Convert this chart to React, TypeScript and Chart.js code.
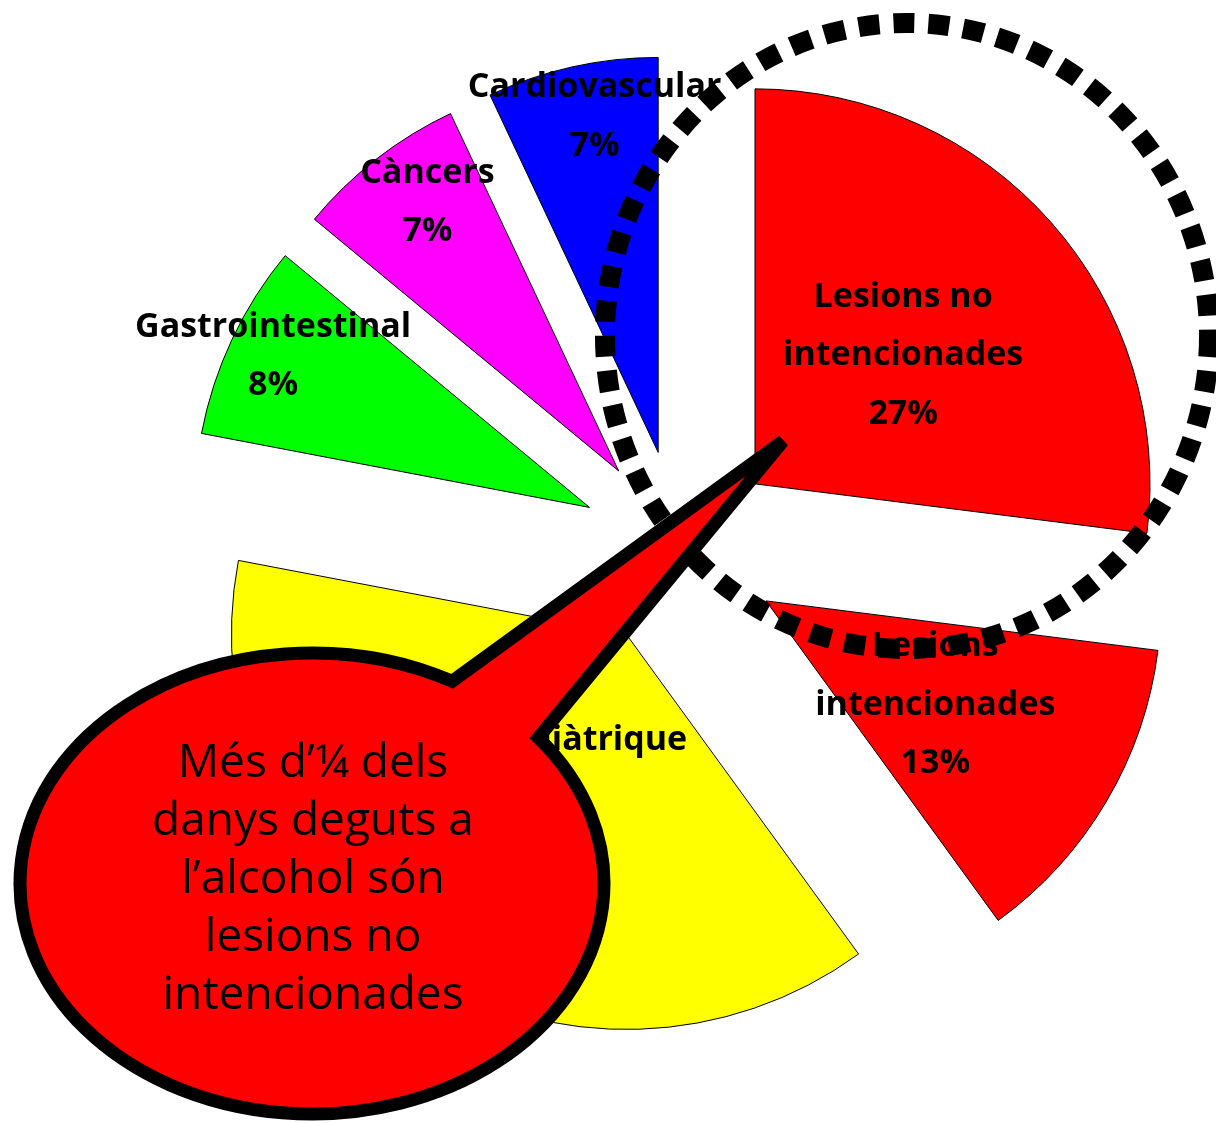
import React, { useEffect, useRef } from "react";
import { Chart, registerables } from "chart.js";

Chart.register(...registerables);

// ---- data ----
const CATEGORIES = [
  "Lesions no intencionades",
  "Lesions intencionades",
  "Neuropsiquiàtrique",
  "Gastrointestinal",
  "Càncers",
  "Cardiovascular",
];
const SHARES = [27, 13, 38, 8, 7, 7];
const LABEL_LINES = [
  ["Lesions no", "intencionades"],
  ["Lesions", "intencionades"],
  ["Neuropsiquiàtrique"],
  ["Gastrointestinal"],
  ["Càncers"],
  ["Cardiovascular"],
];
const CALLOUT_LINES = [
  "Més d’¼ dels",
  "danys deguts a",
  "l’alcohol són",
  "lesions no",
  "intencionades",
];

// ---- style ----
const COLORS = ["#FF0000", "#FF0000", "#FFFF00", "#00FF00", "#FF00FF", "#0000FF"];
const W = 1216;
const H = 1123;
const PIE_RADIUS = 395;
const EXPLODE = 100;
const LABEL_RADIUS = [0.5, 0.5, 0.43, 0.89, 0.84, 0.87];
const LABEL_TURN_DEG = [0, 0.3, 4, 0.5, 2, 1.5];
const LABEL_LINE = 58.5;
const LABEL_FONT = 'bold 34px "Open Sans", "DejaVu Sans", sans-serif';
const CALLOUT_FONT = '46px "Open Sans", "DejaVu Sans", sans-serif';

const RING = { cx: 907, cy: 336, rx: 302, ry: 313, width: 20, dash: [21, 14] };
const BUBBLE = {
  cx: 312, cy: 883.5, rx: 292, ry: 230.5, width: 13,
  baseA: [453, 680], baseB: [538, 738], tip: [783, 441],
  textX: 313, textY0: 777, textStep: 58,
};

const explodePlugin = {
  id: "explodeSlices",
  beforeDatasetsDraw(chart: any) {
    const ctx = chart.ctx;
    const meta = chart.getDatasetMeta(0);
    meta.data.forEach((arc: any) => {
      const mid = (arc.startAngle + arc.endAngle) / 2;
      ctx.save();
      ctx.translate(Math.cos(mid) * EXPLODE, Math.sin(mid) * EXPLODE);
      arc.draw(ctx, chart.chartArea);
      ctx.restore();
    });
    return false;
  },
  afterDraw(chart: any) {
    const ctx: CanvasRenderingContext2D = chart.ctx;
    const meta = chart.getDatasetMeta(0);
    const total = SHARES.reduce((a, b) => a + b, 0);

    // slice labels
    ctx.save();
    ctx.fillStyle = "#000";
    ctx.font = LABEL_FONT;
    ctx.textAlign = "center";
    ctx.textBaseline = "alphabetic";
    meta.data.forEach((arc: any, i: number) => {
      const mid = (arc.startAngle + arc.endAngle) / 2 + (LABEL_TURN_DEG[i] * Math.PI) / 180;
      const d = EXPLODE + LABEL_RADIUS[i] * arc.outerRadius;
      const ax = arc.x + Math.cos(mid) * d;
      const ay = arc.y + Math.sin(mid) * d;
      const lines = [...LABEL_LINES[i], Math.round((SHARES[i] / total) * 100) + "%"];
      lines.forEach((t, j) => {
        ctx.fillText(t, ax, ay + (j - (lines.length - 1) / 2) * LABEL_LINE + 12);
      });
    });
    ctx.restore();

    // dashed ring
    ctx.save();
    ctx.strokeStyle = "#000";
    ctx.lineWidth = RING.width;
    ctx.setLineDash(RING.dash);
    ctx.lineCap = "butt";
    ctx.beginPath();
    ctx.ellipse(RING.cx, RING.cy, RING.rx, RING.ry, 0, 0, Math.PI * 2);
    ctx.stroke();
    ctx.restore();

    // callout bubble
    const b = BUBBLE;
    const ang = (p: number[]) => Math.atan2((p[1] - b.cy) / b.ry, (p[0] - b.cx) / b.rx);
    ctx.save();
    ctx.beginPath();
    ctx.ellipse(b.cx, b.cy, b.rx, b.ry, 0, ang(b.baseB), ang(b.baseA), false);
    ctx.lineTo(b.tip[0], b.tip[1]);
    ctx.closePath();
    ctx.fillStyle = "#FF0000";
    ctx.fill();
    ctx.lineWidth = b.width;
    ctx.lineJoin = "miter";
    ctx.miterLimit = 3;
    ctx.strokeStyle = "#000";
    ctx.stroke();

    ctx.fillStyle = "#000";
    ctx.font = CALLOUT_FONT;
    ctx.textAlign = "center";
    ctx.textBaseline = "alphabetic";
    CALLOUT_LINES.forEach((t, i) => ctx.fillText(t, b.textX, b.textY0 + i * b.textStep));
    ctx.restore();
  },
};

export default function App() {
  const ref = useRef<HTMLCanvasElement | null>(null);
  useEffect(() => {
    if (!ref.current) return;
    const chart = new Chart(ref.current, {
      type: "pie",
      data: {
        labels: CATEGORIES,
        datasets: [
          {
            data: SHARES,
            backgroundColor: COLORS,
            borderColor: "#000000",
            borderWidth: 1,
            hoverOffset: 0,
          },
        ],
      },
      options: {
        responsive: false,
        animation: false,
        events: [],
        radius: PIE_RADIUS,
        layout: { padding: { left: 144, right: 0, top: 0, bottom: 23 } },
        plugins: { legend: { display: false }, tooltip: { enabled: false } },
      } as any,
      plugins: [explodePlugin as any],
    });
    return () => chart.destroy();
  }, []);
  return (
    <div style={{ position: "absolute", left: 0, top: 0, width: W, height: H, background: "#fff" }}>
      <canvas ref={ref} width={W} height={H} style={{ display: "block", width: W, height: H }} />
    </div>
  );
}
